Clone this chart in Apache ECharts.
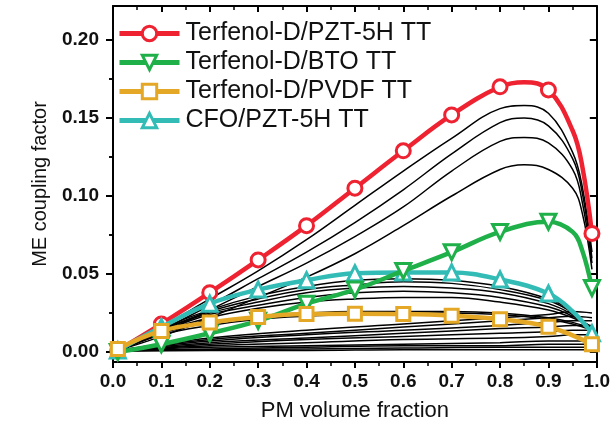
<!DOCTYPE html>
<html>
<head>
<meta charset="utf-8">
<script src="https://cdn.jsdelivr.net/npm/echarts@6/dist/echarts.min.js"></script>
<style>
html,body{margin:0;padding:0;background:#fff;}
#chart{width:613px;height:427px;}
</style>
</head>
<body>
<div id="chart"></div>
<script>
// ---- Data ----
const seriesNames = ['Terfenol-D/PZT-5H TT', 'Terfenol-D/BTO TT', 'Terfenol-D/PVDF TT', 'CFO/PZT-5H TT'];
const markX = [0.01, 0.1, 0.2, 0.3, 0.4, 0.5, 0.6, 0.7, 0.8, 0.9, 0.99];

const redX = [0.01, 0.1, 0.2, 0.3, 0.4, 0.5, 0.6, 0.7, 0.8, 0.85, 0.9, 0.95, 0.97, 0.99];
const redY = [0.001, 0.018, 0.038, 0.059, 0.081, 0.105, 0.129, 0.152, 0.170, 0.173, 0.168, 0.142, 0.119, 0.076];

const greenX = [0.01, 0.1, 0.2, 0.3, 0.4, 0.5, 0.6, 0.7, 0.8, 0.9, 0.95, 0.97, 0.99];
const greenY = [0.000, 0.005, 0.012, 0.020, 0.031, 0.040, 0.052, 0.064, 0.077, 0.0835, 0.077, 0.065, 0.041];

const yellowX = [0.01, 0.1, 0.2, 0.3, 0.4, 0.5, 0.6, 0.7, 0.8, 0.9, 0.99];
const yellowY = [0.002, 0.0135, 0.019, 0.0225, 0.0243, 0.0245, 0.0243, 0.0233, 0.021, 0.0162, 0.005];

const cyanX = [0.01, 0.1, 0.2, 0.3, 0.4, 0.5, 0.6, 0.7, 0.8, 0.9, 0.95, 0.99];
const cyanY = [0.001, 0.016, 0.031, 0.040, 0.046, 0.0505, 0.051, 0.051, 0.0465, 0.0375, 0.026, 0.012];

// thin black model curves
const upperX = [0.01, 0.1, 0.2, 0.3, 0.4, 0.5, 0.6, 0.7, 0.8, 0.85, 0.9, 0.95, 0.97, 0.99];
const blackA = [0.001, 0.016, 0.034, 0.052, 0.072, 0.094, 0.116, 0.137, 0.156, 0.158, 0.153, 0.128, 0.106, 0.064];
const blackB = [0.001, 0.014, 0.030, 0.047, 0.064, 0.083, 0.104, 0.127, 0.147, 0.150, 0.145, 0.124, 0.102, 0.060];
const blackC = [0.001, 0.012, 0.027, 0.042, 0.057, 0.074, 0.093, 0.116, 0.135, 0.1375, 0.134, 0.117, 0.096, 0.057];
const blackD = [0.001, 0.010, 0.022, 0.035, 0.048, 0.063, 0.081, 0.100, 0.117, 0.120, 0.117, 0.105, 0.089, 0.053];

const middleX = [0.01, 0.1, 0.2, 0.3, 0.4, 0.5, 0.6, 0.7, 0.8, 0.9, 0.95, 0.99];
const blackM1 = [0.001, 0.015, 0.027, 0.036, 0.042, 0.046, 0.047, 0.046, 0.042, 0.034, 0.026, 0.013];
const blackM2 = [0.001, 0.014, 0.026, 0.034, 0.040, 0.043, 0.045, 0.044, 0.040, 0.033, 0.025, 0.014];
const blackM3 = [0.001, 0.014, 0.025, 0.032, 0.038, 0.041, 0.042, 0.041, 0.038, 0.031, 0.024, 0.015];
const blackM4 = [0.001, 0.013, 0.024, 0.030, 0.035, 0.038, 0.039, 0.038, 0.035, 0.029, 0.023, 0.016];
const blackM5 = [0.001, 0.013, 0.022, 0.028, 0.032, 0.034, 0.035, 0.035, 0.032, 0.027, 0.022, 0.016];
const blackM6 = [0.001, 0.012, 0.019, 0.023, 0.025, 0.026, 0.026, 0.026, 0.025, 0.022, 0.019, 0.015];
const blackM7 = [0.001, 0.011, 0.017, 0.021, 0.023, 0.024, 0.025, 0.025, 0.024, 0.021, 0.018, 0.014];

const lowerX = [0.01, 0.2, 0.4, 0.6, 0.8, 0.9, 0.95, 0.99];
const blackL1 = [0.001, 0.009, 0.014, 0.018, 0.022, 0.024, 0.026, 0.025];
const blackL2 = [0.001, 0.008, 0.012, 0.016, 0.020, 0.022, 0.023, 0.022];
const blackL3 = [0.001, 0.007, 0.011, 0.014, 0.017, 0.019, 0.020, 0.020];
const blackL4 = [0.001, 0.006, 0.009, 0.012, 0.015, 0.016, 0.017, 0.017];
const blackL5 = [0.001, 0.005, 0.008, 0.010, 0.012, 0.013, 0.014, 0.014];
const blackL6 = [0.001, 0.004, 0.006, 0.008, 0.009, 0.010, 0.011, 0.011];
const blackL7 = [0.001, 0.003, 0.004, 0.005, 0.006, 0.007, 0.007, 0.007];
const blackL8 = [0.001, 0.002, 0.003, 0.004, 0.004, 0.005, 0.005, 0.005];
const blackL9 = [0.001, 0.0015, 0.002, 0.0025, 0.003, 0.003, 0.003, 0.003];
const blackL10 = [0.0005, 0.001, 0.001, 0.0015, 0.0015, 0.0015, 0.0015, 0.0015];

const xTicks = [0, 0.1, 0.2, 0.3, 0.4, 0.5, 0.6, 0.7, 0.8, 0.9, 1.0];
const yMajorTicks = [0, 0.05, 0.10, 0.15, 0.20];
const yMinorTicks = [0.025, 0.075, 0.125, 0.175];

// ---- Build chart ----
const FONT = 'Liberation Sans, Arial, Helvetica, sans-serif';
const colors = ['#ee2230', '#1fb04a', '#e4a826', '#33bcb6'];
const symbols = ['circle', 'triangle', 'rect', 'triangle'];
const rotations = [0, 180, 0, 0];
const sizes = [14, 15, 13, 15];

function zip(xs, ys) { return xs.map((x, i) => [x, ys[i]]); }
function markedData(xs, ys) {
  return xs.map((x, i) => markX.indexOf(x) >= 0 ? { value: [x, ys[i]] } : { value: [x, ys[i]], symbol: 'none' });
}

const blackSets = [
  [upperX, blackA], [upperX, blackB], [upperX, blackC], [upperX, blackD],
  [middleX, blackM1], [middleX, blackM2], [middleX, blackM3], [middleX, blackM4],
  [middleX, blackM5], [middleX, blackM6], [middleX, blackM7],
  [lowerX, blackL1], [lowerX, blackL2], [lowerX, blackL3], [lowerX, blackL4], [lowerX, blackL5],
  [lowerX, blackL6], [lowerX, blackL7], [lowerX, blackL8], [lowerX, blackL9], [lowerX, blackL10]
];

const series = [];
blackSets.forEach(([xs, ys]) => {
  series.push({
    type: 'line', data: zip(xs, ys), showSymbol: false, symbol: 'none', smooth: 0.4,
    silent: true, z: 1, lineStyle: { color: '#000', width: 1.5 }, emphasis: { disabled: true }
  });
});

const mainSets = [[redX, redY], [greenX, greenY], [yellowX, yellowY], [cyanX, cyanY]];
const zOrder = [3, 5, 6, 4];
mainSets.forEach(([xs, ys], k) => {
  series.push({
    name: seriesNames[k], type: 'line', data: markedData(xs, ys), smooth: 0.4,
    symbol: symbols[k], symbolSize: sizes[k], symbolRotate: rotations[k], showAllSymbol: true,
    z: zOrder[k],
    lineStyle: { color: colors[k], width: 4.5 },
    itemStyle: { color: '#fff', borderColor: colors[k], borderWidth: 3 },
    emphasis: { disabled: true }
  });
});

const axisLineStyle = { color: '#000', width: 2 };
const chart = echarts.init(document.getElementById('chart'), null, { renderer: 'canvas' });
chart.setOption({
  animation: false,
  backgroundColor: '#fff',
  textStyle: { fontFamily: FONT },
  grid: { left: 113, right: 13.5, top: 6, bottom: 65, containLabel: false },
  legend: {
    data: seriesNames,
    orient: 'vertical', left: 112, top: 16, itemGap: 4, itemWidth: 60, itemHeight: 18,
    lineStyle: { width: 5 },
    itemStyle: { borderWidth: 3 },
    textStyle: { fontSize: 25, color: '#111', fontFamily: FONT, padding: [0, 0, 0, 1] }
  },
  xAxis: [
    {
      type: 'value', position: 'bottom', min: 0, max: 1, interval: 0.1,
      axisLine: { show: true, onZero: false, lineStyle: axisLineStyle },
      axisTick: { show: true, inside: false, length: 6, lineStyle: { color: '#000', width: 2 } },
      minorTick: { show: true, splitNumber: 2, length: 4, lineStyle: { color: '#000', width: 1.5 } },
      splitLine: { show: false },
      axisLabel: { fontSize: 19, fontWeight: 'bold', color: '#111', margin: 10, fontFamily: FONT,
        formatter: v => v.toFixed(1), customValues: xTicks },
      name: 'PM volume fraction', nameLocation: 'middle', nameGap: 38,
      nameTextStyle: { fontSize: 22, color: '#111', fontFamily: FONT }
    },
    {
      type: 'value', position: 'top', min: 0, max: 1, interval: 0.1,
      axisLine: { show: true, onZero: false, lineStyle: axisLineStyle },
      axisTick: { show: true, inside: true, length: 6, lineStyle: { color: '#000', width: 2 } },
      minorTick: { show: true, splitNumber: 2, length: 4, lineStyle: { color: '#000', width: 1.5 } },
      splitLine: { show: false }, axisLabel: { show: false }
    }
  ],
  yAxis: [
    {
      type: 'value', position: 'left', min: -0.0064, max: 0.2218,
      axisLine: { show: true, onZero: false, lineStyle: axisLineStyle },
      axisTick: { show: true, inside: false, length: 7, customValues: yMajorTicks, lineStyle: { color: '#000', width: 2 } },
      splitLine: { show: false },
      axisLabel: { fontSize: 19, fontWeight: 'bold', color: '#111', margin: 14, fontFamily: FONT,
        customValues: yMajorTicks, formatter: v => v.toFixed(2) },
      name: 'ME coupling factor', nameLocation: 'middle', nameGap: 63, nameRotate: 90,
      nameTextStyle: { fontSize: 20, color: '#111', fontFamily: FONT }
    },
    {
      type: 'value', position: 'left', offset: 0, min: -0.0064, max: 0.2218,
      axisLine: { show: false },
      axisTick: { show: true, inside: false, length: 4, customValues: yMinorTicks, lineStyle: { color: '#000', width: 1.5 } },
      splitLine: { show: false }, axisLabel: { show: false }
    },
    {
      type: 'value', position: 'right', offset: 0, min: -0.0064, max: 0.2218,
      axisLine: { show: true, onZero: false, lineStyle: axisLineStyle },
      axisTick: { show: true, inside: true, length: 7, customValues: yMajorTicks, lineStyle: { color: '#000', width: 2 } },
      splitLine: { show: false }, axisLabel: { show: false }
    },
    {
      type: 'value', position: 'right', offset: 0, min: -0.0064, max: 0.2218,
      axisLine: { show: false },
      axisTick: { show: true, inside: true, length: 4, customValues: yMinorTicks, lineStyle: { color: '#000', width: 1.5 } },
      splitLine: { show: false }, axisLabel: { show: false }
    }
  ],
  series: series
});
</script>
</body>
</html>
